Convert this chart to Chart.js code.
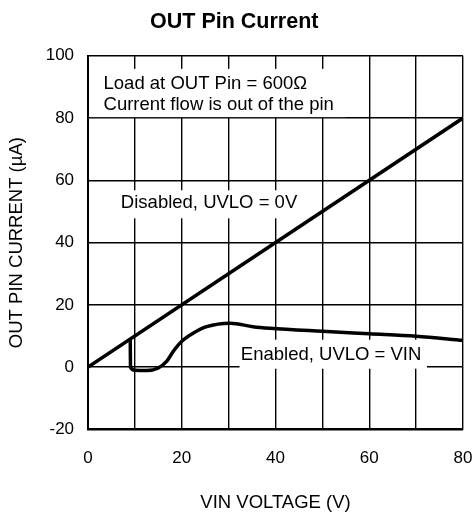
<!DOCTYPE html>
<html>
<head>
<meta charset="utf-8">
<script src="https://cdn.jsdelivr.net/npm/chart.js@4.4.1/dist/chart.umd.min.js"></script>
<style>
  html, body { margin: 0; padding: 0; background: #fff; }
  #wrap { width: 474px; height: 514px; }
</style>
</head>
<body>
<div id="wrap"><canvas id="outChart"></canvas></div>
<script>
// data
const vinDisabled = [0, 80];
const currentDisabled = [0, 80];

const vinEnabled = [9, 9.05, 10, 12.5, 15, 16.8, 18.2, 20, 22.4, 25.3, 30.3, 35.2, 38.8, 50, 60, 70, 80];
const currentEnabled = [9.3, 0, -1, -1.1, -0.3, 1.9, 5.1, 8.3, 10.9, 13.0, 14.1, 13.0, 12.5, 11.5, 10.7, 9.9, 8.6];

const xMajorTicks = [0, 20, 40, 60, 80];

const FONT = "'Liberation Sans', Arial, Helvetica, sans-serif";

function toPoints(xs, ys) {
    let pts = [];
    for (let i = 0; i < xs.length; i++) {
        pts.push({x: xs[i], y: ys[i]});
    }
    return pts;
}

// text notes on the plot, each with a white box behind it that hides the grid
const notes = [
    {lines: ["Load at OUT Pin = 600\u03A9", "Current flow is out of the pin"], x: 3.3, y: [91.1, 84.2], box: [0, 55, 80.3, 95.8]},
    {lines: ["Disabled, UVLO = 0V"], x: 7.0, y: [52.6], box: [5.5, 48, 47.8, 56.8]},
    {lines: ["Enabled, UVLO = VIN"], x: 32.6, y: [3.8], box: [32, 72.3, -0.5, 8.8]}
];

const notePlugin = {
    id: 'notes',
    beforeDatasetsDraw(chart) {
        const ctx = chart.ctx;
        const xs = chart.scales.x;
        const ys = chart.scales.y;
        ctx.save();
        for (const n of notes) {
            const x0 = xs.getPixelForValue(n.box[0]);
            const x1 = xs.getPixelForValue(n.box[1]);
            const y0 = ys.getPixelForValue(n.box[3]);
            const y1 = ys.getPixelForValue(n.box[2]);
            ctx.fillStyle = '#fff';
            ctx.fillRect(x0 + 1.5, y0, x1 - x0 - 1.5, y1 - y0);
            ctx.fillStyle = '#000';
            ctx.font = "18.5px " + FONT;
            ctx.textBaseline = 'middle';
            ctx.textAlign = 'left';
            n.lines.forEach((t, i) => {
                ctx.fillText(t, xs.getPixelForValue(n.x), ys.getPixelForValue(n.y[i]));
            });
        }
        ctx.restore();
    }
};

new Chart(document.getElementById("outChart"), {
    type: 'line',
    data: {
        datasets: [
            {
                label: "Disabled, UVLO = 0V",
                data: toPoints(vinDisabled, currentDisabled),
                borderColor: '#000',
                borderWidth: 3.5,
                pointRadius: 0,
                fill: false
            },
            {
                label: "Enabled, UVLO = VIN",
                data: toPoints(vinEnabled, currentEnabled),
                borderColor: '#000',
                borderWidth: 3.5,
                pointRadius: 0,
                cubicInterpolationMode: 'monotone',
                fill: false
            }
        ]
    },
    options: {
        responsive: true,
        maintainAspectRatio: false,
        animation: false,
        layout: { padding: { left: 5.5, right: 11, top: 0, bottom: 0 } },
        plugins: {
            legend: { display: false },
            tooltip: { enabled: false },
            title: {
                display: true,
                text: 'OUT Pin Current',
                color: '#000',
                font: { family: FONT, size: 21.5, weight: 'bold' },
                padding: { top: 9, bottom: 21 }
            }
        },
        scales: {
            x: {
                type: 'linear',
                min: 0,
                max: 80,
                afterFit: (scale) => { scale.paddingRight = 11; scale.paddingLeft = 0; },
                ticks: {
                    stepSize: 10,
                    color: '#000',
                    font: { family: FONT, size: 17 },
                    padding: 19,
                    maxRotation: 0,
                    callback: (v) => xMajorTicks.includes(v) ? v : ''
                },
                grid: { color: '#000', lineWidth: 1.4, drawTicks: false },
                border: { color: '#000', width: 2 },
                title: {
                    display: true,
                    text: 'VIN VOLTAGE (V)',
                    color: '#000',
                    font: { family: FONT, size: 18.5 },
                    padding: { top: 4, bottom: 0 }
                }
            },
            y: {
                min: -20,
                max: 100,
                ticks: {
                    stepSize: 20,
                    color: '#000',
                    font: { family: FONT, size: 17 },
                    padding: 14
                },
                grid: { color: '#000', lineWidth: 1.4, drawTicks: false },
                border: { color: '#000', width: 2 },
                title: {
                    display: true,
                    text: 'OUT PIN CURRENT (\u00B5A)',
                    color: '#000',
                    font: { family: FONT, size: 18.5 },
                    padding: { top: 0, bottom: 4 }
                }
            }
        }
    },
    plugins: [notePlugin]
});
</script>
</body>
</html>
